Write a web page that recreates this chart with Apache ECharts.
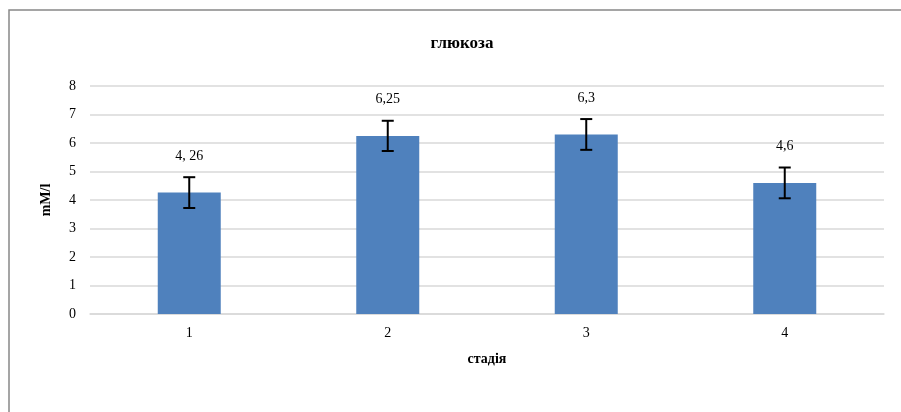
<!DOCTYPE html>
<html>
<head>
<meta charset="utf-8">
<script src="https://cdn.jsdelivr.net/npm/echarts@6/dist/echarts.min.js"></script>
<style>html,body{margin:0;padding:0;background:#fff}#c{width:901px;height:412px}</style>
</head>
<body>
<div id="c"></div>
<script>
const categories = ['1', '2', '3', '4'];
const values = [4.26, 6.25, 6.3, 4.6];
const errors = [0.54, 0.53, 0.54, 0.54];
const valueLabels = ['4, 26', '6,25', '6,3', '4,6'];
const yTicks = [0, 1, 2, 3, 4, 5, 6, 7, 8];

const FONT = '"Liberation Serif", "Times New Roman", serif';
const chart = echarts.init(document.getElementById('c'), null, {renderer: 'canvas'});
chart.setOption({
  animation: false,
  backgroundColor: '#fff',
  graphic: [{
    type: 'rect', x: 9, y: 10, shape: {x: 0, y: 0, width: 1200, height: 1200},
    style: {fill: 'none', stroke: '#888', lineWidth: 1.5}, silent: true
  }, {
    type: 'text', x: 462, y: 44,
    style: {text: 'глюкоза', font: 'bold 17px ' + FONT, fill: '#000', align: 'center', verticalAlign: 'middle'}
  }],
  grid: {left: 90, right: 17, top: 86, bottom: 98},
  xAxis: {
    type: 'category', data: categories,
    axisTick: {show: false},
    axisLine: {lineStyle: {color: '#d9d9d9', width: 1.5}},
    axisLabel: {fontFamily: FONT, fontSize: 14, color: '#000', margin: 12},
    name: 'стадія', nameLocation: 'middle', nameGap: 38,
    nameTextStyle: {fontFamily: FONT, fontSize: 14, fontWeight: 'bold', color: '#000'}
  },
  yAxis: {
    type: 'value', min: yTicks[0], max: yTicks[yTicks.length - 1], interval: 1,
    axisLine: {show: false}, axisTick: {show: false},
    splitLine: {lineStyle: {color: '#d9d9d9', width: 1.5}},
    axisLabel: {fontFamily: FONT, fontSize: 14, color: '#000', margin: 14},
    name: 'mM/l', nameLocation: 'middle', nameGap: 37, nameRotate: 90,
    nameTextStyle: {fontFamily: FONT, fontSize: 14, fontWeight: 'bold', color: '#000'}
  },
  series: [{
    type: 'bar', data: values, barWidth: 63,
    itemStyle: {color: '#4f81bd'}
  }, {
    type: 'custom',
    data: values.map((v, i) => [i, v, errors[i]]),
    renderItem: function (params, api) {
      const i = api.value(0);
      const v = api.value(1);
      const e = api.value(2);
      const top = api.coord([i, v + e]);
      const bot = api.coord([i, v - e]);
      const x = top[0];
      const hw = 6;
      const st = {stroke: '#000', lineWidth: 2};
      return {
        type: 'group',
        children: [
          {type: 'line', shape: {x1: x, y1: top[1], x2: x, y2: bot[1]}, style: st},
          {type: 'line', shape: {x1: x - hw, y1: top[1], x2: x + hw, y2: top[1]}, style: st},
          {type: 'line', shape: {x1: x - hw, y1: bot[1], x2: x + hw, y2: bot[1]}, style: st},
          {type: 'text', x: x, y: top[1] - 21,
           style: {text: valueLabels[i], font: '14px ' + FONT, fill: '#000', align: 'center', verticalAlign: 'middle'}}
        ]
      };
    },
    z: 5
  }]
});
</script>
</body>
</html>
